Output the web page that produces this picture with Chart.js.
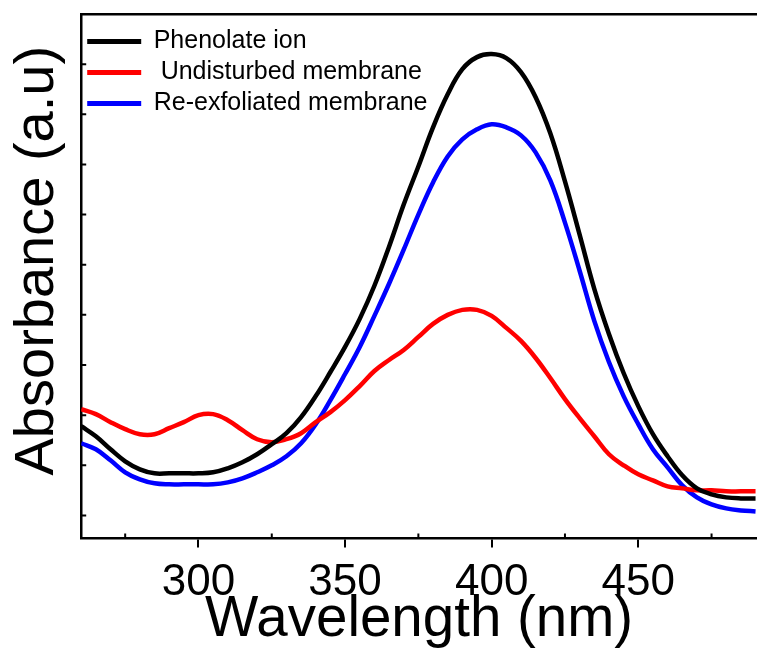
<!DOCTYPE html>
<html>
<head>
<meta charset="utf-8">
<script src="https://cdn.jsdelivr.net/npm/chart.js@4/dist/chart.umd.min.js"></script>
<style>
  html, body { margin: 0; padding: 0; background: #fff; }
  #c { display: block; }
</style>
</head>
<body>
<canvas id="c" width="757" height="655"></canvas>
<script>
// Wavelength (nm)
const wavelength = [260,265,270,275,280,285,290,295,300,305,310,315,320,325,330,335,340,345,350,355,360,365,370,375,380,385,390,395,400,405,410,415,420,425,430,435,440,445,450,455,460,465,470,475,480,485,490];

// Absorbance (a.u.) series
const phenolateIon = [0.178,0.158,0.132,0.108,0.092,0.084,0.084,0.084,0.084,0.086,0.094,0.106,0.122,0.142,0.164,0.196,0.238,0.286,0.336,0.392,0.458,0.536,0.620,0.696,0.774,0.840,0.890,0.914,0.920,0.912,0.884,0.834,0.762,0.666,0.560,0.452,0.362,0.284,0.218,0.162,0.118,0.080,0.054,0.042,0.036,0.034,0.034];
const undisturbedMembrane = [0.212,0.202,0.186,0.172,0.162,0.162,0.174,0.186,0.200,0.202,0.190,0.170,0.152,0.146,0.152,0.164,0.186,0.206,0.230,0.258,0.288,0.310,0.330,0.356,0.382,0.400,0.410,0.410,0.398,0.374,0.348,0.314,0.274,0.232,0.194,0.158,0.122,0.100,0.082,0.070,0.058,0.054,0.050,0.050,0.048,0.048,0.048];
const reexfoliatedMembrane = [0.144,0.132,0.110,0.086,0.072,0.064,0.062,0.062,0.062,0.062,0.066,0.074,0.086,0.100,0.118,0.144,0.182,0.230,0.282,0.336,0.398,0.462,0.530,0.600,0.664,0.716,0.750,0.770,0.780,0.774,0.758,0.724,0.668,0.584,0.488,0.388,0.306,0.238,0.182,0.132,0.096,0.060,0.036,0.022,0.014,0.010,0.008];

const seriesLabels = ['Phenolate ion', ' Undisturbed membrane', 'Re-exfoliated membrane'];
const seriesColors = ['#000000', '#ff0000', '#0000ff'];

// Axis ticks
const xTickValues = [300, 350, 400, 450];
const xMinorTickValues = [275, 325, 375, 425, 475];
const yMinorTickValues = [0, 0.1, 0.2, 0.3, 0.4, 0.5, 0.6, 0.7, 0.8, 0.9];

const toPoints = arr => arr.map((v, i) => ({x: wavelength[i], y: v}));
const seriesValues = [phenolateIon, undisturbedMembrane, reexfoliatedMembrane];

const inwardTicks = {
  id: 'inwardTicks',
  afterDraw(chart) {
    const {ctx, chartArea, scales} = chart;
    ctx.save();
    ctx.strokeStyle = '#000';
    ctx.lineWidth = 2;
    ctx.beginPath();
    yMinorTickValues.forEach(v => {
      const py = scales.y.getPixelForValue(v);
      ctx.moveTo(chartArea.left, py);
      ctx.lineTo(chartArea.left + 5, py);
    });
    xMinorTickValues.forEach(v => {
      const px = scales.x.getPixelForValue(v);
      ctx.moveTo(px, chartArea.bottom);
      ctx.lineTo(px, chartArea.bottom - 5);
    });
    ctx.stroke();
    ctx.restore();
  }
};

Chart.defaults.font.family = "'Liberation Sans', Arial, sans-serif";
Chart.defaults.color = '#000';

new Chart(document.getElementById('c'), {
  type: 'line',
  data: {
    datasets: seriesValues.map((vals, i) => ({
      label: seriesLabels[i],
      data: toPoints(vals),
      borderColor: seriesColors[i],
      backgroundColor: seriesColors[i],
      borderWidth: 4.5,
      pointRadius: 0,
      fill: false,
      tension: 0.4
    }))
  },
  options: {
    responsive: false,
    animation: false,
    devicePixelRatio: 1,
    layout: { padding: { top: 14, right: 0, bottom: 0, left: 0 } },
    plugins: {
      tooltip: { enabled: false },
      legend: {
        position: 'chartArea',
        align: 'start',
        title: { display: true, text: '', padding: 0, font: { size: 23, lineHeight: 1 } },
        labels: {
          boxWidth: 54,
          boxHeight: 5,
          padding: 6,
          color: '#000',
          font: { size: 25 },
          generateLabels(chart) {
            return chart.data.datasets.map((ds, i) => ({
              text: ds.label,
              fillStyle: ds.borderColor,
              strokeStyle: ds.borderColor,
              lineWidth: 0,
              hidden: false,
              datasetIndex: i,
              fontColor: '#000'
            }));
          }
        }
      }
    },
    scales: {
      x: {
        type: 'linear',
        min: 260,
        max: 490.5,
        afterBuildTicks: s => { s.ticks = xTickValues.map(v => ({value: v})); },
        ticks: { font: { size: 44, lineHeight: 1 }, padding: 13, color: '#000', maxRotation: 0, autoSkip: false },
        grid: { display: true, drawOnChartArea: false, drawTicks: true, tickLength: 9, color: '#000', lineWidth: 2 },
        border: { display: true, color: '#000', width: 2.5 },
        title: { display: true, text: 'Wavelength (nm)', color: '#000', font: { size: 56.5, lineHeight: '6px' }, padding: { top: 0, bottom: 31.5 } }
      },
      x2: {
        type: 'linear',
        position: 'top',
        min: 260,
        max: 490.5,
        ticks: { display: false },
        grid: { display: false, drawTicks: false },
        border: { display: true, color: '#000', width: 2.5 }
      },
      y: {
        min: -0.046,
        max: 1.0,
        ticks: { display: false },
        grid: { display: false, drawTicks: false },
        border: { display: true, color: '#000', width: 2.5 },
        title: { display: true, text: '  Absorbance (a.u)', color: '#000', font: { size: 56, lineHeight: 1.2 }, padding: { top: 4, bottom: 10 } }
      }
    }
  },
  plugins: [inwardTicks]
});
</script>
</body>
</html>
